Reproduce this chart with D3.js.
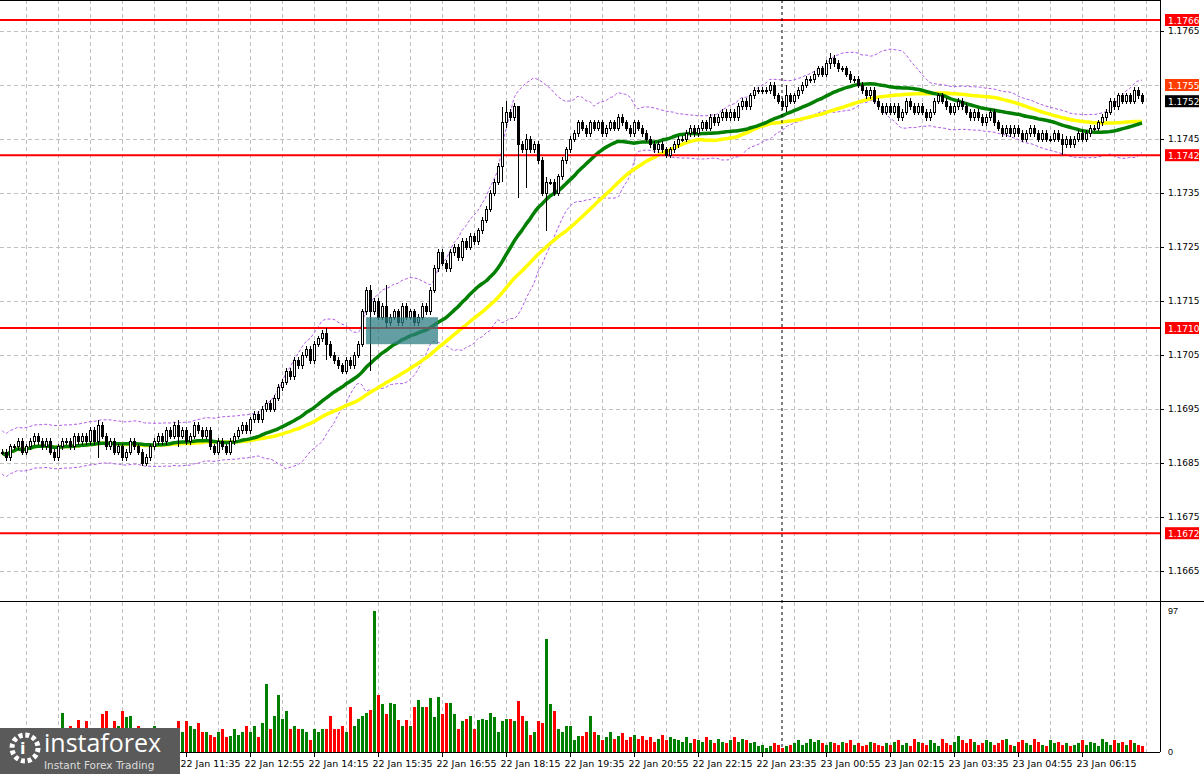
<!DOCTYPE html>
<html><head><meta charset="utf-8">
<script src="https://cdn.jsdelivr.net/npm/d3@7"></script>
<style>
body{margin:0;background:#fff;}
svg{display:block;font-family:"DejaVu Sans",sans-serif;}
</style></head><body>
<script>
// closes in pips above 1.1600, one per 5-minute bar
const closes = [
  87,86,88,88,89,87,88,89,90,89, 88,89,87,86,88,89,89,88,90,89,
  90,89,91,89,92,90,88,89,87,88, 86,87,89,88,87,85,86,88,89,90,
  89,91,90,92,90,91,89,90,92,91, 90,91,88,87,89,88,87,89,90,91,
  92,91,93,94,93,95,96,95,97,99, 100,102,101,104,103,105,106,104,107,108,
  109,107,105,104,103,102,104,103,105,107, 113,117,113,115,112,114,111,112,113,111,
  114,112,113,111,112,114,113,117,121,124, 122,121,124,125,123,126,125,127,126,128,
  130,132,135,137,140,148,150,149,151,144, 143,145,143,144,141,135,137,137,135,138,
  141,143,145,146,148,147,146,148,147,148, 146,147,148,147,149,148,147,146,148,147,
  146,145,144,143,144,143,142,143,144,145, 145,146,147,146,147,148,147,149,148,149,
  150,149,150,149,151,152,151,153,154,154, 154,154,155,153,152,151,153,152,153,154,
  155,156,156,157,158,157,159,160,159,158, 158,157,156,156,155,154,153,154,152,151,
  150,151,150,151,149,150,152,151,150,151, 150,149,150,152,153,152,151,150,151,152,
  151,150,149,150,149,148,149,150,148,147, 146,147,146,147,146,145,146,147,146,145,
  146,145,145,146,145,144,145,144,145,146, 145,146,147,147,148,149,150,152,151,153,
  152,153,152,154,153,152
]
// notable wicks: [bar, high, low] in pips
const wickSpikes = [[92,118,102],[96,118,110],[125,151,137],[126,152,147],[129,151,134],[131,146,136],[136,138,128],
  [24,93,86],[44,93,88],[81,110,104],[207,161,158],[265,146,142],[196,155,150]]
const volumes = [
  8,7,9,6,10,8,7,9,8,7, 9,8,7,10,9, 27,12,18,10,22,14,21,9,12,10,
  26,28,15,21,18,28,24,25,12,18, 10,16,9,18,7,12,10,14,9,
  21,14,21,18,16,20,14,14,12,10, 14,16,10,11,16,12,14,18,14,18,
  10,20,47,16,25,39,23,28,16,18, 16,16,14,8,16,14,16,16,25,16,
  16,18,14,31,18,23,25,27,29,97, 39,33,26,34,33,22,18,22,18,31,
  36,31,31,37,24,38,26,34,34,26, 16,21,23,25,16,22,23,22,27,24,
  14,21,23,23,21,35,25,21,12,14, 21,20,78,33,28,16,14,18,18,8,
  11,11,14,25,14,
  12,8,10,14,9,11,13,8,10,12, 9,11,8,10,7,9,12,8,10,9,
  8,7,10,6,9,8,7,10,8,6, 9,7,6,8,10,7,9,8,6,7,
  4,5,3,4,6,5,3,4,5,6, 8,5,6,9,7,8,6,5,7,6,
  5,7,6,8,5,6,4,5,7,6, 5,4,6,5,7,8,5,6,4,9,
  7,6,5,8,6,4,9,6,5,7, 11,8,6,9,7,5,6,8,7,5,
  6,8,9,5,4,7,8,6,5,9, 7,5,4,8,6,7,5,6,4,5,
  6,8,5,7,6,4,9,7,5,8, 6,7,5,8,6,5,4
]
const priceTicks = [1.1765,1.1745,1.1735,1.1725,1.1715,1.1705,1.1695,1.1685,1.1675,1.1665]
const levels = [1.1766,1.1742,1.1710,1.1672]
const timeLabels = ["22 Jan 11:35","22 Jan 12:55","22 Jan 14:15","22 Jan 15:35","22 Jan 16:55","22 Jan 18:15",
  "22 Jan 19:35","22 Jan 20:55","22 Jan 22:15","22 Jan 23:35","23 Jan 00:55","23 Jan 02:15","23 Jan 03:35",
  "23 Jan 04:55","23 Jan 06:15"]
const firstLabelBar = 46
const zoneBars = [91,109], zonePrices = [1.1712,1.1707]
const bid = 1.1755, last = 1.1752, markerBar = 195

const W = 1204, H = 774, plotR = 1160
const svg = d3.select("body").append("svg").attr("width", W).attr("height", H)

const pip = v => 1.16 + v / 10000
const bars = closes.map((c, i) => {
  const o = i ? closes[i - 1] : c
  let hi = Math.max(o, c) + 0.6, lo = Math.min(o, c) - 0.6
  const s = wickSpikes.find(w => w[0] === i)
  if (s) { hi = s[1]; lo = s[2] }
  return {i, o: pip(o), c: pip(c), h: pip(hi), l: pip(lo), v: volumes[i]}
})

const x = d3.scaleLinear().domain([0, closes.length - 1]).range([2, 2 + 4 * (closes.length - 1)])
const y = d3.scaleLinear().domain([1.1665, 1.1765]).range([571, 31])
const yv = d3.scaleLinear().domain([0, 97]).range([752, 611])
// the top level line sits a few pixels above its price in the terminal
const levelY = d => d === levels[0] ? 20 : y(d)

// grid
const gridX = d3.range(-6, 40).map(k => x(firstLabelBar) + 32 * k).filter(v => v > 0 && v < plotR)
svg.append("g").selectAll("line").data(gridX).join("line")
  .attr("x1", d => d).attr("x2", d => d).attr("y1", 0).attr("y2", 752)
  .attr("stroke", "#c0c0c0").attr("stroke-dasharray", "4,3").attr("shape-rendering", "crispEdges")
svg.append("g").selectAll("line").data(priceTicks.concat([1.1755])).join("line")
  .attr("x1", 0).attr("x2", plotR).attr("y1", d => Math.round(y(d)) + .5).attr("y2", d => Math.round(y(d)) + .5)
  .attr("stroke", "#c0c0c0").attr("stroke-dasharray", "4,3")

// indicators
function sma(n) {
  return bars.map((b, i) => { const s = bars.slice(Math.max(0, i - n + 1), i + 1); return d3.mean(s, d => d.c) })
}
function band(n, k) {
  return bars.map((b, i) => {
    const s = bars.slice(Math.max(0, i - n + 1), i + 1), m = d3.mean(s, d => d.c)
    const sd = Math.max(d3.deviation(s, d => d.c) || 0, 0.0002)
    return [m + k * sd, m - k * sd]
  })
}
const bb = band(20, 2)
const ln = d3.line().x((d, i) => x(i)).y(d => y(d)).curve(d3.curveMonotoneX)
svg.append("path").attr("d", ln(bb.map(d => d[0]))).attr("fill", "none").attr("stroke", "#b15ce8").attr("stroke-dasharray", "3,2")
svg.append("path").attr("d", ln(bb.map(d => d[1]))).attr("fill", "none").attr("stroke", "#b15ce8").attr("stroke-dasharray", "3,2")
svg.append("path").attr("d", ln(sma(50))).attr("fill", "none").attr("stroke", "#ffff00").attr("stroke-width", 3.5)
svg.append("path").attr("d", ln(sma(30))).attr("fill", "none").attr("stroke", "#007f00").attr("stroke-width", 3.5)

// levels
svg.append("g").selectAll("line").data(levels).join("line")
  .attr("x1", 0).attr("x2", plotR).attr("y1", levelY).attr("y2", levelY)
  .attr("stroke", "#ff0000").attr("stroke-width", 2)
svg.append("line").attr("x1", x(markerBar)).attr("x2", x(markerBar)).attr("y1", 0).attr("y2", 752)
  .attr("stroke", "#000").attr("stroke-dasharray", "3,3")

// candles
const cg = svg.append("g").attr("shape-rendering", "crispEdges")
cg.selectAll("line").data(bars).join("line")
  .attr("x1", d => Math.round(x(d.i)) + .5).attr("x2", d => Math.round(x(d.i)) + .5)
  .attr("y1", d => y(d.h)).attr("y2", d => y(d.l)).attr("stroke", "#000")
cg.selectAll("rect").data(bars).join("rect")
  .attr("x", d => Math.round(x(d.i)) - 1 + .5).attr("width", 2)
  .attr("y", d => y(Math.max(d.o, d.c))).attr("height", d => Math.max(1, Math.abs(y(d.o) - y(d.c))))
  .attr("fill", d => d.c >= d.o ? "#fff" : "#000").attr("stroke", "#000")

// entry zone
svg.append("rect").attr("x", x(zoneBars[0])).attr("width", x(zoneBars[1]) - x(zoneBars[0]))
  .attr("y", y(zonePrices[0])).attr("height", y(zonePrices[1]) - y(zonePrices[0]))
  .attr("fill", "#2f7f83").attr("opacity", 0.75)

// volumes
svg.append("g").attr("shape-rendering", "crispEdges").selectAll("rect").data(bars).join("rect")
  .attr("x", d => Math.round(x(d.i)) - 1).attr("width", 3)
  .attr("y", d => yv(d.v)).attr("height", d => yv(0) - yv(d.v))
  .attr("fill", d => d.c >= d.o ? "#008000" : "#ff0000")

// frame
const fr = svg.append("g").attr("stroke", "#000").attr("shape-rendering", "crispEdges")
fr.append("line").attr("x1", plotR + .5).attr("x2", plotR + .5).attr("y1", 0).attr("y2", 752)
fr.append("line").attr("x1", 0).attr("x2", W).attr("y1", 601.5).attr("y2", 601.5)
fr.append("line").attr("x1", 0).attr("x2", plotR).attr("y1", 752.5).attr("y2", 752.5)
fr.append("line").attr("x1", 0).attr("x2", plotR).attr("y1", .5).attr("y2", .5)

// price axis
const ay = svg.append("g").attr("transform", `translate(${plotR},0)`)
  .call(d3.axisRight(y).tickValues(priceTicks).tickSize(4).tickFormat(d3.format(".4f")))
ay.select(".domain").remove()
ay.selectAll("text").attr("font-size", 9).attr("font-family", "DejaVu Sans").attr("x", 8)
const tags = [{p: levels[0], bg: "#ff0000", fg: "#fff"}, {p: levels[1], bg: "#ff0000", fg: "#fff"},
  {p: levels[2], bg: "#ff0000", fg: "#fff"}, {p: levels[3], bg: "#ff0000", fg: "#fff"},
  {p: bid, bg: "#ff3d00", fg: "#fff"}, {p: last, bg: "#000", fg: "#fff"}]
const tg = svg.append("g").selectAll("g").data(tags).join("g").attr("transform", d => `translate(${plotR + 5},${levelY(d.p)})`)
tg.append("rect").attr("y", -6).attr("width", 34).attr("height", 12).attr("fill", d => d.bg)
tg.append("text").attr("x", 3).attr("y", 3.5).attr("font-size", 9).attr("fill", d => d.fg).text(d => d.p.toFixed(4))
const av = svg.append("g").attr("transform", `translate(${plotR},0)`)
  .call(d3.axisRight(yv).tickValues([0, 97]).tickSize(0).tickFormat(d3.format("d")))
av.select(".domain").remove()
av.selectAll("text").attr("font-size", 9).attr("x", 8)

// time axis
const tx = svg.append("g").selectAll("g").data(timeLabels).join("g")
  .attr("transform", (d, k) => `translate(${Math.round(x(firstLabelBar + 16 * k)) + .5},752)`)
tx.append("line").attr("y2", 5).attr("stroke", "#000")
tx.append("text").attr("x", -6).attr("y", 15).attr("font-size", 9.5).text(d => d)

// logo
const lg = svg.append("g").attr("transform", "translate(0,728)")
lg.append("rect").attr("width", 180).attr("height", 46).attr("fill", "#5a5a5a")
lg.append("circle").attr("cx", 25).attr("cy", 20).attr("r", 13).attr("fill", "none").attr("stroke", "#fff").attr("stroke-width", 5).attr("stroke-dasharray", "4,2.8")
lg.append("text").attr("x", 20).attr("y", 26).attr("font-size", 16).attr("font-weight", "bold").attr("fill", "#fff").text("i")
lg.append("text").attr("x", 44).attr("y", 24).attr("font-size", 25).attr("fill", "#fff").attr("font-family", "Open Sans").text("instaforex")
lg.append("text").attr("x", 44).attr("y", 41).attr("font-size", 10.5).attr("fill", "#ddd").text("Instant Forex Trading")
</script></body></html>
